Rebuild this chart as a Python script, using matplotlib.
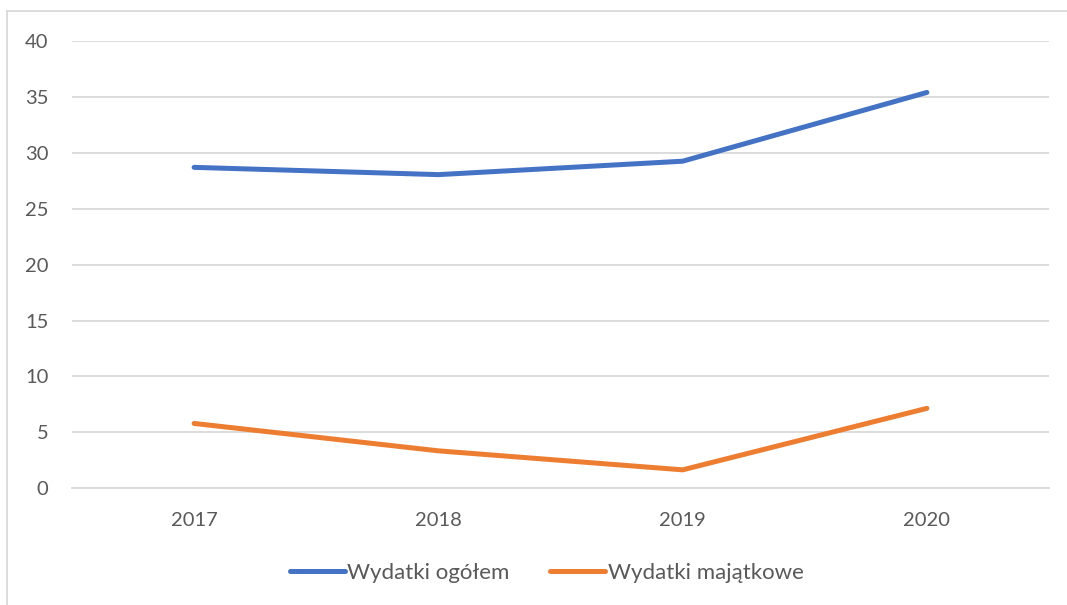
import matplotlib
matplotlib.use('Agg')
import matplotlib.pyplot as plt
from matplotlib.lines import Line2D

# dane
lata = ['2017', '2018', '2019', '2020']
wydatki_ogolem = [28.7, 28.05, 29.25, 35.4]
wydatki_majatkowe = [5.8, 3.35, 1.65, 7.15]
y_ticks = [0, 5, 10, 15, 20, 25, 30, 35, 40]

plt.rcParams['font.family'] = ['Lato', 'DejaVu Sans']
text_color = '#595959'
grid_color = '#d9d9d9'

W, H = 1067, 605
fig = plt.figure(figsize=(W / 100, H / 100), dpi=100)
ax = fig.add_axes([72 / W, 1 - 488.3 / H, (1049 - 72) / W, (488.3 - 41) / H])

x = range(len(lata))
ax.plot(x, wydatki_ogolem, color='#4472C4', linewidth=3.6,
        solid_capstyle='round', solid_joinstyle='round', label='Wydatki ogółem', zorder=3)
ax.plot(x, wydatki_majatkowe, color='#ED7D31', linewidth=3.6,
        solid_capstyle='round', solid_joinstyle='round', label='Wydatki majątkowe', zorder=3)

ax.set_xlim(-0.5, len(lata) - 0.5)
ax.set_ylim(0, 40)
ax.set_yticks(y_ticks)
ax.set_yticklabels([str(v) for v in y_ticks])
ax.set_xticks(list(x))
ax.set_xticklabels(lata)

ax.yaxis.grid(True, color=grid_color, linewidth=1.3)
ax.set_axisbelow(True)
for s in ax.spines.values():
    s.set_visible(False)
ax.spines['bottom'].set_visible(True)
ax.spines['bottom'].set_color(grid_color)
ax.spines['bottom'].set_linewidth(1.3)

ax.tick_params(axis='both', length=0, labelsize=14.5, labelcolor=text_color)
ax.tick_params(axis='y', pad=17)
ax.tick_params(axis='x', pad=17)

leg = ax.legend(loc='center', bbox_to_anchor=((546.5 - 72) / 977, (488.3 - 573) / (488.3 - 41)),
                ncol=2, frameon=False, fontsize=16, handlelength=2.5,
                handletextpad=0.1, columnspacing=1.8)
for t in leg.get_texts():
    t.set_color(text_color)

# ramka obszaru wykresu
fig.add_artist(Line2D([7 / W, 7 / W], [0, 1 - 11 / H], color=grid_color, linewidth=1.3))
fig.add_artist(Line2D([7 / W, 1], [1 - 11 / H, 1 - 11 / H], color=grid_color, linewidth=1.3))

fig.savefig('out.png', dpi=100, facecolor='white')
